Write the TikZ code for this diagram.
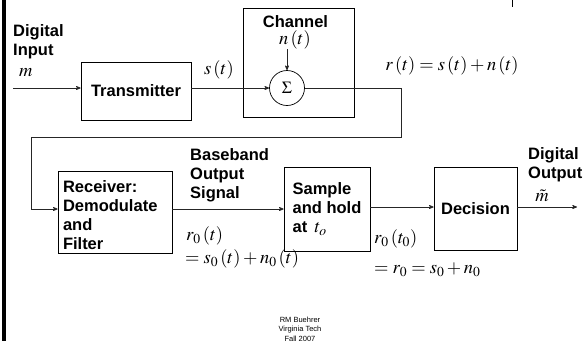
\documentclass[tikz,border=0pt]{standalone}
\usepackage{mathptmx}
\usepackage[no-math]{fontspec}
\setmainfont{Liberation Sans}
\usetikzlibrary{arrows,positioning}
\newcommand{\blockfont}{\fontsize{16.5}{19.2}\selectfont\bfseries}
\newcommand{\eqfont}{\fontsize{18.5}{21}\selectfont}
\tikzset{
    %Define standard arrow tip
    >=stealth',
    %Define style for boxes
    block/.style={
           rectangle,
           draw=black, line width=0.7pt,
           inner sep=0pt,
           font=\blockfont,
           text centered},
    summer/.style={
           circle,
           draw=black, line width=0.7pt,
           minimum size=35pt,
           inner sep=0pt,
           font=\fontsize{17}{20}\selectfont},
    % Define style for texts
    tag/.style={
           inner sep=0pt,
           font=\blockfont,
           align=left},
    eq/.style={
           inner sep=0pt,
           font=\eqfont},
    % Define arrow style
    pil/.style={
           ->,
           draw=black!85, line width=0.7pt},
}
\begin{document}
\begin{tikzpicture}[x=1pt,y=-1pt]
\useasboundingbox (0,0) rectangle (587,341);
\draw[line width=4pt] (4,0) -- (4,341);
\draw[line width=0.8pt] (512,0) -- (512,7);

 %nodes
\node[block, minimum width=110pt, minimum height=58pt] (tx) at (136,91) {Transmitter};
\node[block, minimum width=111pt, minimum height=109pt] (ch) at (298.5,62.5) {};
\node[tag] (chl) at (295.5,22) {Channel};
\node[summer] (sum) at (287,88) {$\Sigma$};
\node[eq] (nt) at (295,40) {$n\left(t\right)$};
\node[block, minimum width=114pt, minimum height=82pt, align=left, text width=104pt] (rx) at (115,212)
     {\rule{0pt}{18pt}Receiver:\\Demodulate\\and\\Filter};
\node[block, minimum width=86pt, minimum height=84pt, align=left] (sh) at (327,209)
     {Sample\\and hold\\at \,{\eqfont$t_o$}};
\node[block, minimum width=83pt, minimum height=83pt] (dec) at (475.5,208.5) {Decision};

 %labels
\node[tag, anchor=north west] (din) at (13,24) {\fontsize{16.5}{22}\selectfont Digital\\Input};
\node[eq, anchor=base west] (m) at (19,76) {$m$};
\node[eq] (st) at (219,70) {$s\left(t\right)$};
\node[eq] (rt) at (452,66) {$r\left(t\right)=s\left(t\right)+n\left(t\right)$};
\node[tag, anchor=north west] (bb) at (190,148) {Baseband\\Output\\Signal};
\node[eq, anchor=west] (r0t) at (186,236) {$r_0\left(t\right)$};
\node[eq, anchor=west] (s0t) at (185,259) {$=s_0\left(t\right)+n_0\left(t\right)$};
\node[eq, anchor=west] (r0t0) at (374,239) {$r_0\left(t_0\right)$};
\node[eq, anchor=west] (r0) at (374,270) {$=r_0=s_0+n_0$};
\node[tag, anchor=north west] (dout) at (528,147) {\fontsize{16.5}{20.5}\selectfont Digital\\Output};
\node[eq] (mh) at (542,196) {$\tilde{m}$};
\node[align=center, inner sep=0pt, font=\fontsize{7.5}{9.5}\selectfont] (foot) at (300,329)
     {RM Buehrer\\Virginia Tech\\Fall 2007};

 %connectors
\coordinate (in) at (13,88);
\coordinate (turn) at (401,137);
\coordinate (back) at (31,137);
\coordinate (out) at (577,207);
\draw[pil] (in) -- (in -| tx.west);
\draw[pil] (tx.east |- sum) -- (sum.west);
\draw[pil] (sum.north |- nt.south) -- (sum.north);
\draw[pil] (sum.east) -| (turn) -- (back) |- ([yshift=3pt]rx.west);
\draw[pil] (rx.east |- sh.west) -- (sh.west);
\draw[pil] ([yshift=2pt]sh.east) -- ([yshift=2pt]sh.east -| dec.west);
\draw[pil] (dec.east |- out) -- (out);
\end{tikzpicture}
\end{document}
